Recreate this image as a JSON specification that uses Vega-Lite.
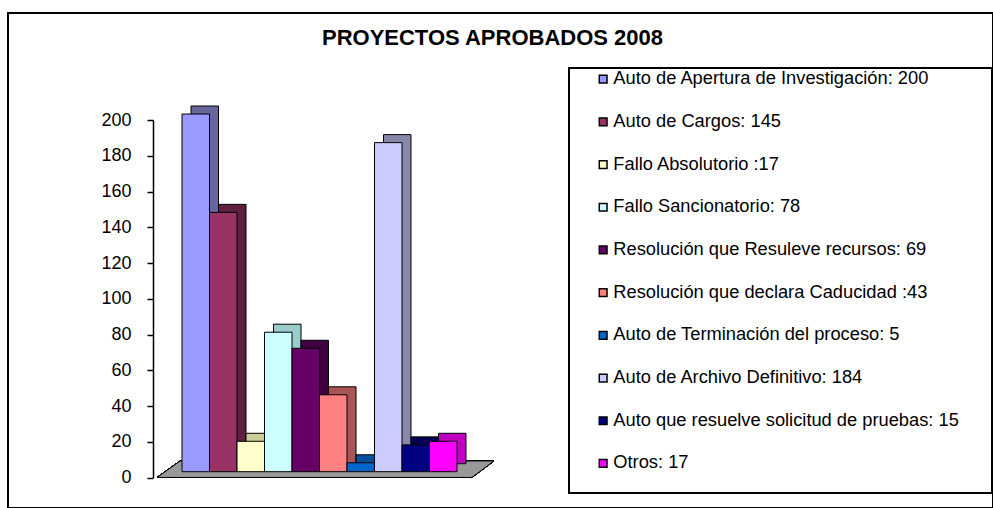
{
  "$schema": "https://vega.github.io/schema/vega-lite/v6.json",
  "width": 985,
  "height": 495,
  "autosize": "none",
  "padding": {"left": 8, "top": 13, "right": 0, "bottom": 0},
  "background": "white",
  "title": {
    "text": "PROYECTOS APROBADOS 2008",
    "anchor": "middle",
    "font": "Liberation Sans",
    "fontSize": 22,
    "fontWeight": "bold",
    "color": "black",
    "baseline": "alphabetic",
    "offset": -54,
    "dx": -8
  },
  "data": {
    "values": [
      {"cat": "Auto de Apertura de Investigación: 200", "valor": 200},
      {"cat": "Auto de Cargos: 145", "valor": 145},
      {"cat": "Fallo Absolutorio :17", "valor": 17},
      {"cat": "Fallo Sancionatorio: 78", "valor": 78},
      {"cat": "Resolución que Resuleve recursos: 69", "valor": 69},
      {"cat": "Resolución que declara Caducidad :43", "valor": 43},
      {"cat": "Auto de Terminación del proceso: 5", "valor": 5},
      {"cat": "Auto de Archivo Definitivo: 184", "valor": 184},
      {"cat": "Auto que resuelve solicitud de pruebas: 15", "valor": 15},
      {"cat": "Otros: 17", "valor": 17}
    ]
  },
  "encoding": {
    "x": {
      "field": "cat",
      "type": "nominal",
      "sort": null,
      "axis": null,
      "scale": {
        "domain": [
          "Auto de Apertura de Investigación: 200",
          "Auto de Cargos: 145",
          "Fallo Absolutorio :17",
          "Fallo Sancionatorio: 78",
          "Resolución que Resuleve recursos: 69",
          "Resolución que declara Caducidad :43",
          "Auto de Terminación del proceso: 5",
          "Auto de Archivo Definitivo: 184",
          "Auto que resuelve solicitud de pruebas: 15",
          "Otros: 17"
        ],
        "range": [174, 449],
        "paddingInner": 0,
        "paddingOuter": 0
      }
    }
  },
  "layer": [
    {
      "mark": {
        "type": "point",
        "filled": true,
        "shape": "M-1,0.049L-0.863,-0.049L1,-0.049L0.869,0.049Z",
        "size": 113569,
        "fill": "#999999",
        "stroke": "#000000",
        "strokeWidth": 1,
        "opacity": 1,
        "xOffset": 6,
        "yOffset": -8.5
      },
      "encoding": {
        "x": {"datum": "Resolución que declara Caducidad :43", "bandPosition": 0},
        "y": {"datum": 0, "type": "quantitative"}
      }
    },
    {
      "mark": {
        "type": "bar",
        "stroke": "#000000",
        "strokeWidth": 1,
        "xOffset": 9,
        "x2Offset": 9,
        "yOffset": -14,
        "y2Offset": -14
      },
      "encoding": {
        "y": {"field": "valor", "type": "quantitative"},
        "fill": {
          "field": "cat",
          "type": "nominal",
          "sort": null,
          "legend": null,
          "scale": {
            "range": ["#66669A", "#5E1F40", "#CCCC99", "#99CCCC", "#400040", "#AA5555", "#0050A0", "#8888AA", "#000055", "#C000C0"]
          }
        }
      }
    },
    {
      "mark": {
        "type": "bar",
        "stroke": "#000000",
        "strokeWidth": 1,
        "yOffset": -6,
        "y2Offset": -6
      },
      "encoding": {
        "y": {
          "field": "valor",
          "type": "quantitative",
          "scale": {"domain": [0, 200], "range": [464.7, 107], "nice": false, "zero": true},
          "axis": {
            "values": [0, 20, 40, 60, 80, 100, 120, 140, 160, 180, 200],
            "title": null,
            "grid": false,
            "offset": -145,
            "labelFont": "Liberation Sans",
            "labelFontSize": 18,
            "labelColor": "#000000",
            "labelPadding": 16,
            "tickSize": 6,
            "tickColor": "#000000",
            "tickWidth": 1.5,
            "domainColor": "#000000",
            "domainWidth": 1.5
          }
        },
        "color": {
          "field": "cat",
          "type": "nominal",
          "sort": null,
          "scale": {
            "domain": [
              "Auto de Apertura de Investigación: 200",
              "Auto de Cargos: 145",
              "Fallo Absolutorio :17",
              "Fallo Sancionatorio: 78",
              "Resolución que Resuleve recursos: 69",
              "Resolución que declara Caducidad :43",
              "Auto de Terminación del proceso: 5",
              "Auto de Archivo Definitivo: 184",
              "Auto que resuelve solicitud de pruebas: 15",
              "Otros: 17"
            ],
            "range": ["#9999FF", "#993366", "#FFFFCC", "#CCFFFF", "#660066", "#FF8080", "#0066CC", "#CCCCFF", "#000080", "#FF00FF"]
          },
          "legend": {
            "orient": "none",
            "legendX": 561,
            "legendY": 55,
            "title": " ",
            "titleOrient": "bottom",
            "titleFontSize": 12,
            "titlePadding": 7.5,
            "padding": 2,
            "strokeColor": "#000000",
            "symbolType": "square",
            "symbolSize": 60,
            "symbolStrokeColor": "#000000",
            "symbolStrokeWidth": 1.5,
            "symbolOffset": 23,
            "labelOffset": 1,
            "labelFont": "Liberation Sans",
            "labelFontSize": 18.3,
            "labelColor": "#000000",
            "labelLimit": 1000,
            "rowPadding": 23.7,
            "labelExpr": "datum.label + '\u00a0\u00a0\u00a0\u00a0\u00a0\u00a0\u200b'"
          }
        }
      }
    }
  ],
  "config": {
    "view": {"stroke": "#000000", "strokeWidth": 2},
    "legend": {"strokeWidth": 2}
  }
}
